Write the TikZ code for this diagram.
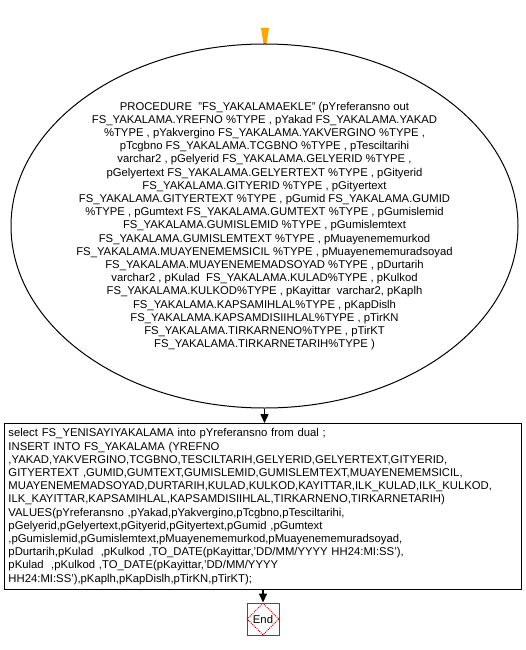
\documentclass[tikz,border=0pt]{standalone}
\usepackage{fontspec}
\setmainfont{Liberation Sans}
\usetikzlibrary{shapes.geometric,arrows.meta}
\definecolor{startorange}{RGB}{255,165,0}
\definecolor{endred}{RGB}{165,40,40}

\begin{document}
\begin{tikzpicture}[x=1pt,y=-1pt,line width=1,
    every node/.style={font=\fontsize{11.3}{13.2}\selectfont},
    procshape/.style={ellipse,draw,minimum width=507,minimum height=364,inner sep=0},
    stmtbox/.style={draw,rectangle,align=left,text width=509,inner sep=4,minimum height=166,anchor=north west},
    flow/.style={-{Triangle[width=8,length=9]},line width=1.5}]
  \useasboundingbox (0,0) rectangle (526,650);
  % start marker
  \fill[startorange] (261,28) -- (269,28) -- (266.5,44) -- (263.5,44) -- cycle;
  \node[procshape] (proc) at (264.5,226) {};
  \node[align=center,inner sep=0] (proctext) at (264.5,226) {PROCEDURE~ "FS\_YAKALAMAEKLE" (pYreferansno out\\
    FS\_YAKALAMA.YREFNO \%TYPE , pYakad FS\_YAKALAMA.YAKAD\\
    \%TYPE , pYakvergino FS\_YAKALAMA.YAKVERGINO \%TYPE ,\\
    pTcgbno FS\_YAKALAMA.TCGBNO \%TYPE , pTesciltarihi\\
    varchar2 , pGelyerid FS\_YAKALAMA.GELYERID \%TYPE ,\\
    pGelyertext FS\_YAKALAMA.GELYERTEXT \%TYPE , pGityerid\\
    FS\_YAKALAMA.GITYERID \%TYPE , pGityertext\\
    FS\_YAKALAMA.GITYERTEXT \%TYPE , pGumid FS\_YAKALAMA.GUMID\\
    \%TYPE , pGumtext FS\_YAKALAMA.GUMTEXT \%TYPE , pGumislemid\\
    FS\_YAKALAMA.GUMISLEMID \%TYPE , pGumislemtext\\
    FS\_YAKALAMA.GUMISLEMTEXT \%TYPE , pMuayenememurkod\\
    FS\_YAKALAMA.MUAYENEMEMSICIL \%TYPE , pMuayenememuradsoyad\\
    FS\_YAKALAMA.MUAYENEMEMADSOYAD \%TYPE , pDurtarih\\
    varchar2 , pKulad~ FS\_YAKALAMA.KULAD\%TYPE , pKulkod\\
    FS\_YAKALAMA.KULKOD\%TYPE , pKayittar~ varchar2, pKaplh\\
    FS\_YAKALAMA.KAPSAMIHLAL\%TYPE , pKapDislh\\
    FS\_YAKALAMA.KAPSAMDISIIHLAL\%TYPE , pTirKN\\
    FS\_YAKALAMA.TIRKARNENO\%TYPE , pTirKT\\
    FS\_YAKALAMA.TIRKARNETARIH\%TYPE )};
  \node[stmtbox] (insert) at (4,423) {select FS\_YENISAYIYAKALAMA into pYreferansno from dual ;\\
    INSERT INTO FS\_YAKALAMA (YREFNO\\
    ,YAKAD,YAKVERGINO,TCGBNO,TESCILTARIH,GELYERID,GELYERTEXT,GITYERID,\\
    GITYERTEXT ,GUMID,GUMTEXT,GUMISLEMID,GUMISLEMTEXT,MUAYENEMEMSICIL,\\
    MUAYENEMEMADSOYAD,DURTARIH,KULAD,KULKOD,KAYITTAR,ILK\_KULAD,ILK\_KULKOD,\\
    ILK\_KAYITTAR,KAPSAMIHLAL,KAPSAMDISIIHLAL,TIRKARNENO,TIRKARNETARIH)\\
    VALUES(pYreferansno ,pYakad,pYakvergino,pTcgbno,pTesciltarihi,\\
    pGelyerid,pGelyertext,pGityerid,pGityertext,pGumid ,pGumtext\\
    ,pGumislemid,pGumislemtext,pMuayenememurkod,pMuayenememuradsoyad,\\
    pDurtarih,pKulad~ ,pKulkod ,TO\_DATE(pKayittar,'DD/MM/YYYY HH24:MI:SS'),\\
    pKulad~ ,pKulkod ,TO\_DATE(pKayittar,'DD/MM/YYYY\\
    HH24:MI:SS'),pKaplh,pKapDislh,pTirKN,pTirKT);};
  \node[draw=endred,minimum size=32,inner sep=0] (end) at (263,619) {End};
  \node[diamond,draw=red!80!black,densely dotted,minimum size=32,inner sep=0] (enddia) at (end) {};
  \draw[flow] (proc.south) -- (proc.south |- insert.north);
  \draw[flow] (end.north |- insert.south) -- (end.north);
\end{tikzpicture}
\end{document}
